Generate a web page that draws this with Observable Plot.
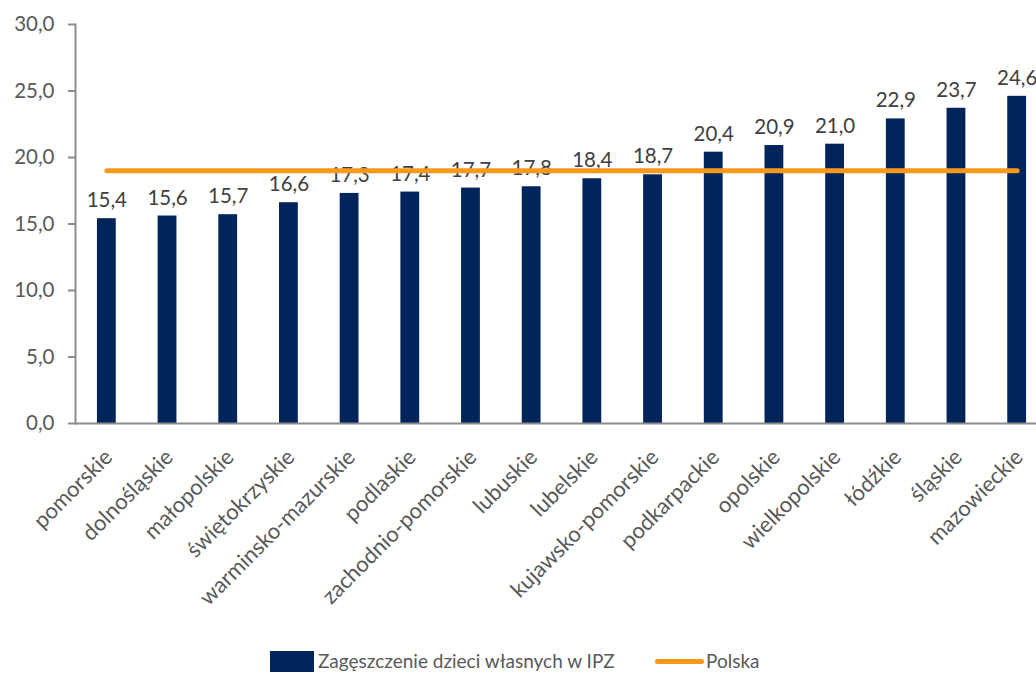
<!DOCTYPE html>
<html><head><meta charset="utf-8">
<script src="https://cdn.jsdelivr.net/npm/d3@7"></script>
<script src="https://cdn.jsdelivr.net/npm/@observablehq/plot@0.6"></script>
<style>
html,body{margin:0;padding:0;background:#fff;overflow:hidden;width:1036px;height:675px;}
#legend{position:absolute;left:0;top:640px;width:1036px;height:35px;font-family:Lato,"Open Sans",sans-serif;font-size:19px;color:#595959;}
#legend .sw{position:absolute;}
#legend span.t{position:absolute;top:10px;line-height:22px;}
</style></head>
<body>
<div id="chart"></div>
<div id="legend">
  <div class="sw" style="left:270px;top:11px;width:44px;height:21px;background:#01245A"></div>
  <span class="t" style="left:318px">Zagęszczenie dzieci własnych w IPZ</span>
  <div class="sw" style="left:655px;top:19px;width:49px;height:5px;border-radius:3px;background:#F7991C"></div>
  <span class="t" style="left:706px">Polska</span>
</div>
<script>
const regionList = ["pomorskie","dolnośląskie","małopolskie","świętokrzyskie","warminsko-mazurskie","podlaskie","zachodnio-pomorskie","lubuskie","lubelskie","kujawsko-pomorskie","podkarpackie","opolskie","wielkopolskie","łódźkie","śląskie","mazowieckie"];
const values = [15.4,15.6,15.7,16.6,17.3,17.4,17.7,17.8,18.4,18.7,20.4,20.9,21.0,22.9,23.7,24.6];
const polska = 19.0;
const yTicks = [0,5,10,15,20,25,30];

const data = regionList.map((r,i)=>({region:r, value:values[i], polska}));
const fmt = v => d3.format(".1f")(v).replace(".", ",");

const chart = Plot.plot({
  width: 1036,
  height: 640,
  marginTop: 24,
  marginBottom: 217,
  marginLeft: 75,
  marginRight: 0,
  style: {fontFamily: "Lato, 'Open Sans', sans-serif", fontSize: "20px", color: "#595959", background: "#fff", overflow: "visible"},
  x: {domain: regionList, paddingInner: 0.69, paddingOuter: 0.345, range: [76, 1047], round: false, label: null},
  y: {domain: [0,30], ticks: yTicks, label: null},
  marks: [
    Plot.barY(data, {x: "region", y: "value", fill: "#01245A"}),
    Plot.text(data, {x: "region", y: "value", text: d => fmt(d.value), dy: -18, fill: "#404040", fontSize: 20.5}),
    Plot.line(data, {x: "region", y: "polska", stroke: "#F7991C", strokeWidth: 5, strokeLinecap: "round"}),
    Plot.axisY({ticks: yTicks, tickFormat: fmt, tickSize: 7, tickPadding: 14, stroke: "#8c8c8c", strokeWidth: 2, fill: "#595959", fontSize: 20.5, label: null}),
    Plot.frame({anchor: "left", stroke: "#8c8c8c", strokeWidth: 2}),
    Plot.ruleY([0], {stroke: "#8c8c8c", strokeWidth: 2}),
    Plot.axisX({tickRotate: -45, tickSize: 0, tickPadding: 17, dy: 13, dx: 2, fill: "#595959", fontSize: 22, label: null})
  ]
});
document.getElementById("chart").appendChild(chart);
</script>
</body></html>
